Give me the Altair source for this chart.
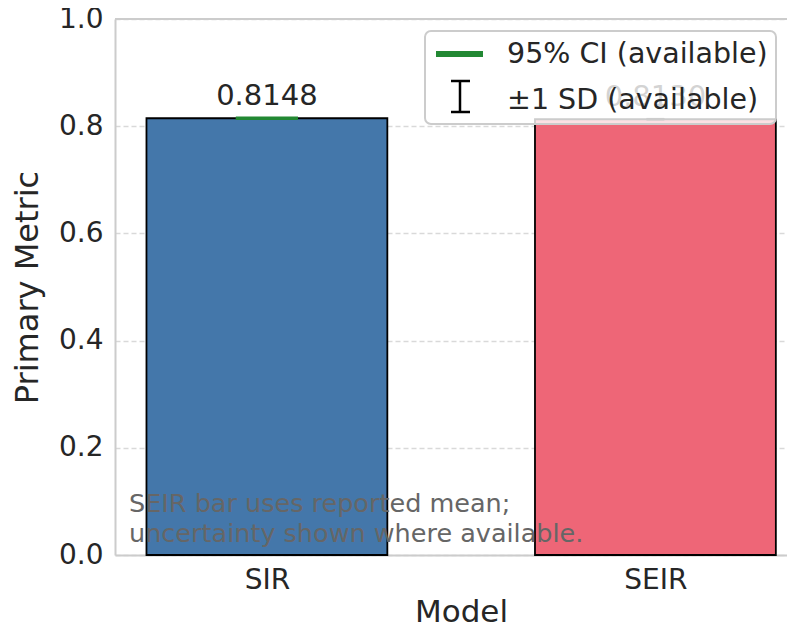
import altair as alt
import pandas as pd

# ---- data ----
models = ["SIR", "SEIR"]
means = [0.8148, 0.8130]
value_labels = ["0.8148", "0.8130"]
ci_low = [0.8143, None]
ci_high = [0.8153, None]
sd = [None, 0.0006]
bar_colors = ["#4477AA", "#EE6677"]
y_ticks = [0.0, 0.2, 0.4, 0.6, 0.8, 1.0]
legend_labels = ["95% CI (available)", "±1 SD (available)"]
note_lines = ["SEIR bar uses reported mean;", "uncertainty shown where available."]

FONT = "DejaVu Sans"
TXT = "#262626"
SPINE = "#cccccc"
W, H = 672, 536
HALF = 0.31      # half bar width (data units)
CI_CAP = 0.08
SD_CAP = 0.023

df = pd.DataFrame({
    "model": models, "mean": means, "label": value_labels,
    "ci_low": ci_low, "ci_high": ci_high, "sd": sd, "color": bar_colors,
})
df["pos"] = list(range(len(models)))

xs = alt.Scale(domain=[-0.391, 1.3387], nice=False, zero=False)
ys = alt.Scale(domain=[0, 1], nice=False)

label_expr = "[" + ",".join("'%s'" % m for m in models) + "][datum.value]"
xaxis = alt.Axis(values=list(range(len(models))), labelExpr=label_expr, title="Model",
                 grid=False, domain=True, domainColor=SPINE, domainWidth=2, ticks=False,
                 labelFontSize=28, labelPadding=11,
                 titleFontSize=31, titlePadding=3, titleX=346,
                 labelColor=TXT, titleColor=TXT)
yaxis = alt.Axis(values=y_ticks, format=".1f", title="Primary Metric", grid=True,
                 gridColor="#d9d9d9", gridDash=[5, 3], gridWidth=1.3,
                 domain=True, domainColor=SPINE, domainWidth=2,
                 ticks=False, labelFontSize=28, labelPadding=12, titleFontSize=32,
                 titlePadding=14, labelColor=TXT, titleColor=TXT)

base = alt.Chart(df).transform_calculate(
    x0="datum.pos - %f" % HALF, x1="datum.pos + %f" % HALF,
    cx0="datum.pos - %f" % CI_CAP, cx1="datum.pos + %f" % CI_CAP,
    sx0="datum.pos - %f" % SD_CAP, sx1="datum.pos + %f" % SD_CAP,
    sd_lo="datum.mean - datum.sd", sd_hi="datum.mean + datum.sd",
)

bars = base.mark_rect(stroke="black", strokeWidth=1.8).encode(
    x=alt.X("x0:Q", scale=xs, axis=xaxis),
    x2="x1:Q",
    y=alt.Y("mean:Q", scale=ys, axis=yaxis),
    y2=alt.datum(0),
    fill=alt.Fill("color:N", scale=None),
)

ci = base.transform_filter("isValid(datum.ci_low)")
ci_v = ci.mark_rule(color="#228833", strokeWidth=3).encode(
    x=alt.X("pos:Q", scale=xs), y=alt.Y("ci_low:Q", scale=ys), y2="ci_high:Q")
ci_lo = ci.mark_rule(color="#228833", strokeWidth=3).encode(
    x=alt.X("cx0:Q", scale=xs), x2="cx1:Q", y=alt.Y("ci_low:Q", scale=ys))
ci_hi = ci.mark_rule(color="#228833", strokeWidth=3).encode(
    x=alt.X("cx0:Q", scale=xs), x2="cx1:Q", y=alt.Y("ci_high:Q", scale=ys))

sdb = base.transform_filter("isValid(datum.sd)")
sd_v = sdb.mark_rule(color="black", strokeWidth=2).encode(
    x=alt.X("pos:Q", scale=xs), y=alt.Y("sd_lo:Q", scale=ys), y2="sd_hi:Q")
sd_lo = sdb.mark_rule(color="black", strokeWidth=2).encode(
    x=alt.X("sx0:Q", scale=xs), x2="sx1:Q", y=alt.Y("sd_lo:Q", scale=ys))
sd_hi = sdb.mark_rule(color="black", strokeWidth=2).encode(
    x=alt.X("sx0:Q", scale=xs), x2="sx1:Q", y=alt.Y("sd_hi:Q", scale=ys))

labels = base.mark_text(font=FONT, fontSize=29, color=TXT, baseline="alphabetic", dy=-13).encode(
    x=alt.X("pos:Q", scale=xs), y=alt.Y("mean:Q", scale=ys), text="label:N")

one = alt.Data(values=[{"k": 1}])

top_spine = alt.Chart(one).mark_rule(color=SPINE, strokeWidth=2).encode(
    x=alt.value(0), x2=alt.value(W), y=alt.value(0))

note = alt.Chart(one).mark_text(font=FONT, fontSize=25.5, color="#666666", align="left",
                                baseline="alphabetic", lineBreak="\n", lineHeight=30).encode(
    x=alt.value(14), y=alt.value(493), text=alt.value("\n".join(note_lines)))

LX = -8   # legend shift so it fits inside the narrower plot
LY = -2
leg_box = alt.Chart(one).mark_rect(fill="white", fillOpacity=0.8, stroke=SPINE,
                                   strokeWidth=2, cornerRadius=6).encode(
    x=alt.value(318 + LX), x2=alt.value(669 + LX), y=alt.value(14 + LY), y2=alt.value(107 + LY))
leg_green = alt.Chart(one).mark_rule(color="#228833", strokeWidth=6).encode(
    x=alt.value(329 + LX), x2=alt.value(376 + LX), y=alt.value(37 + LY))
leg_sd_v = alt.Chart(one).mark_rule(color="black", strokeWidth=2.5).encode(
    x=alt.value(353 + LX), y=alt.value(64 + LY), y2=alt.value(95 + LY))
leg_sd_t = alt.Chart(one).mark_rule(color="black", strokeWidth=2.5).encode(
    x=alt.value(344 + LX), x2=alt.value(363 + LX), y=alt.value(64 + LY))
leg_sd_b = alt.Chart(one).mark_rule(color="black", strokeWidth=2.5).encode(
    x=alt.value(344 + LX), x2=alt.value(363 + LX), y=alt.value(95 + LY))
leg_t1 = alt.Chart(one).mark_text(font=FONT, fontSize=28.5, color=TXT, align="left",
                                  baseline="middle").encode(
    x=alt.value(400 + LX), y=alt.value(37 + LY), text=alt.value(legend_labels[0]))
leg_t2 = alt.Chart(one).mark_text(font=FONT, fontSize=28.5, color=TXT, align="left",
                                  baseline="middle").encode(
    x=alt.value(400 + LX), y=alt.value(83 + LY), text=alt.value(legend_labels[1]))

chart = alt.layer(
    bars, ci_v, ci_lo, ci_hi, sd_v, sd_lo, sd_hi, labels, top_spine, note,
    leg_box, leg_green, leg_sd_v, leg_sd_t, leg_sd_b, leg_t1, leg_t2,
).properties(
    width=W, height=H,
    autosize=alt.AutoSizeParams(type="none"),
    padding={"left": 107, "top": 11, "right": 0, "bottom": 78},
).configure_view(
    stroke=None
).configure_axis(
    labelFont=FONT, titleFont=FONT, titleFontWeight="normal"
)

chart.save("out.html", embed_options={"renderer": "svg", "actions": False})
